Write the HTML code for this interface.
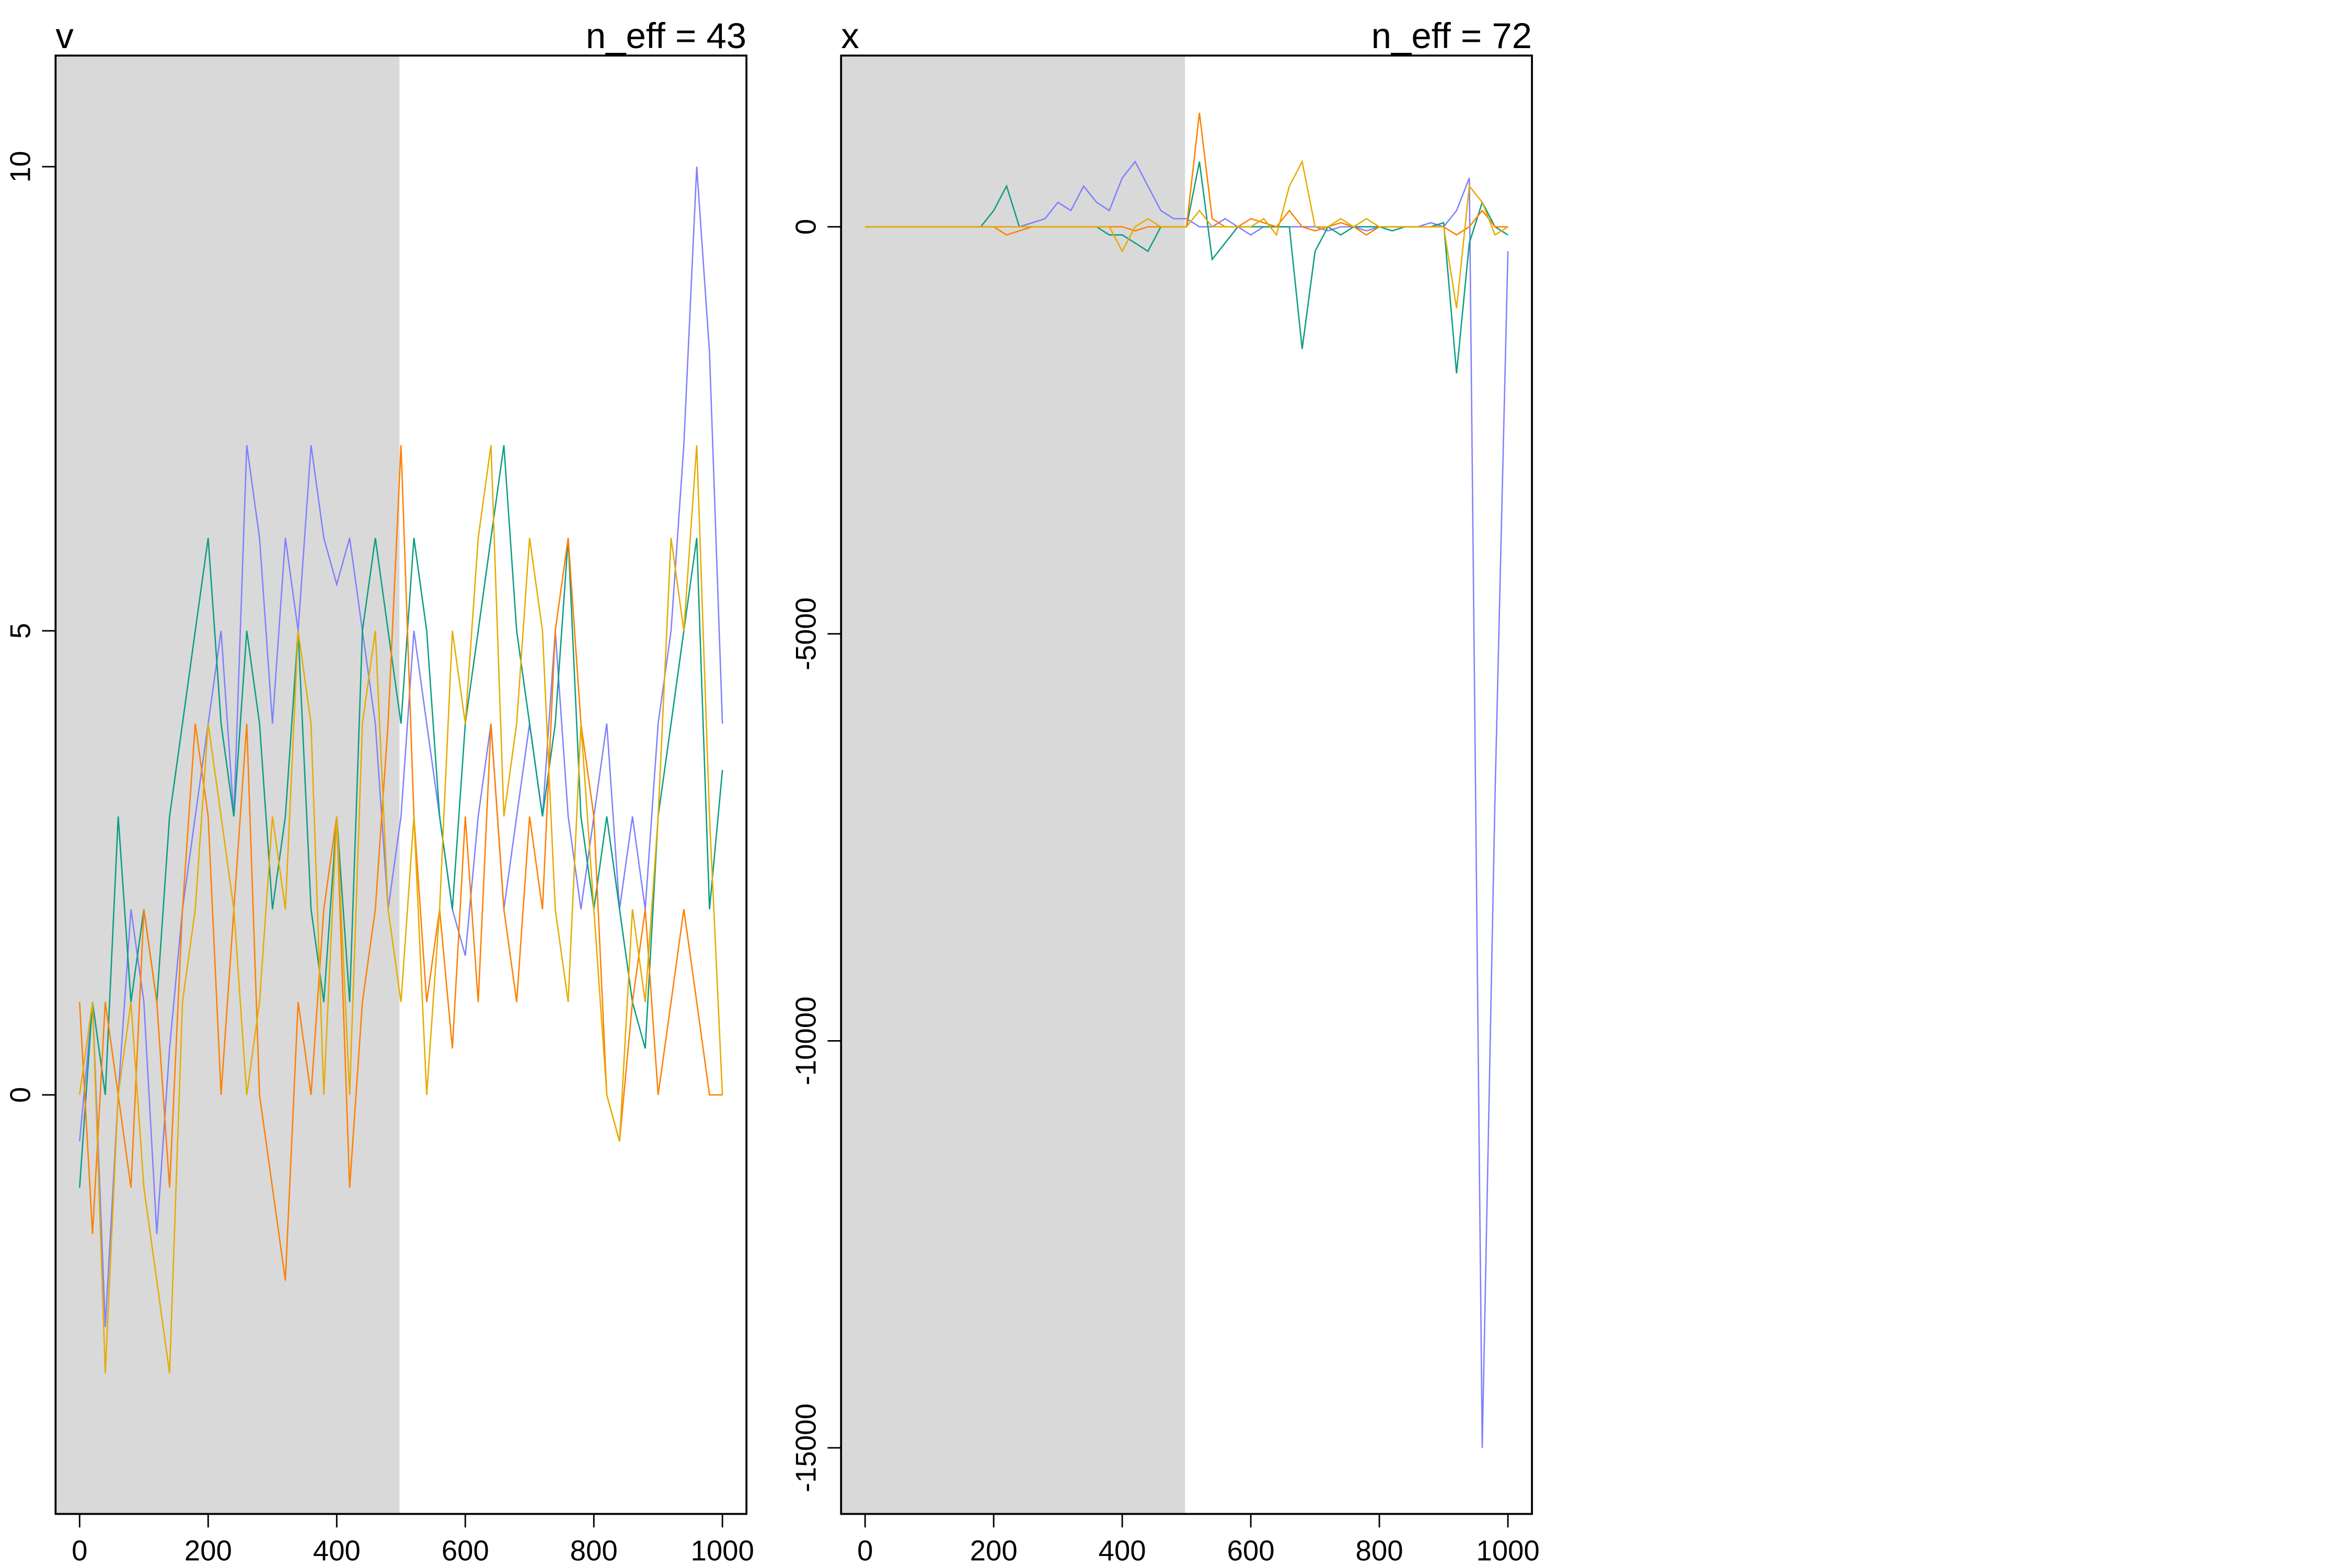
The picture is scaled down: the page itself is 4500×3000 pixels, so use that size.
<!DOCTYPE html>
<html><head><meta charset="utf-8"><style>html,body{margin:0;padding:0;background:#fff}svg{display:block}</style></head>
<body>
<svg id="chart" xmlns="http://www.w3.org/2000/svg" width="4500" height="3000" viewBox="0 0 1566 1044" preserveAspectRatio="none" font-family="Liberation Sans, sans-serif">
<g>
<rect x="37" y="37" width="229" height="971" fill="#d9d9d9"/>
<g id="linesV"></g>
<rect x="37" y="37" width="460" height="971" fill="none" stroke="#000" stroke-width="1.3"/>
<text x="37" y="32" font-size="24">v</text>
<text x="497" y="32" font-size="24" text-anchor="end">n_eff = 43</text>
<g id="axesV"></g>
</g>
<g>
<rect x="560" y="37" width="229" height="971" fill="#d9d9d9"/>
<g id="linesX"></g>
<rect x="560" y="37" width="460" height="971" fill="none" stroke="#000" stroke-width="1.3"/>
<text x="560" y="32" font-size="24">x</text>
<text x="1020" y="32" font-size="24" text-anchor="end">n_eff = 72</text>
<g id="axesX"></g>
</g>
</svg>
<script>
const xTicks=[0,200,400,600,800,1000];
const vTicks=[0,5,10];
const xpTicks=[0,-5000,-10000,-15000];
const chainNames=['chain-1','chain-2','chain-3','chain-4'];
const chainColors=['#8080ff','#0a9e82','#ff8000','#e6ac00'];
// v: values every 20 iterations
const vBlue=[-0.5,1,-2.5,0,2,1,-1.5,0.5,2,3,4,5,3,7,6,4,6,5,7,6,5.5,6,5,4,2,3,5,4,3,2,1.5,3,4,2,3,4,3,5,3,2,3,4,2,3,2,4,5,7,10,8,4];
const vGreen=[-1,1,0,3,1,2,1,3,4,5,6,4,3,5,4,2,3,5,2,1,3,1,5,6,5,4,6,5,3,2,4,5,6,7,5,4,3,4,6,3,2,3,2,1,0.5,3,4,5,6,2,3.5];
const vOrange=[1,-1.5,1,0,-1,2,1,-1,2,4,3,0,2,4,0,-1,-2,1,0,2,3,-1,1,2,4,7,3,1,2,0.5,3,1,4,2,1,3,2,5,6,4,3,0,-0.5,1,2,0,1,2,1,0,0];
const vGold=[0,1,-3,0,1,-1,-2,-3,1,2,4,3,2,0,1,3,2,5,4,0,3,0,4,5,2,1,3,0,2,5,4,6,7,3,4,6,5,2,1,4,2,0,-0.5,2,1,3,6,5,7,3,0];
// x: values every 20 iterations
const xBlue=[0,0,0,0,0,0,0,0,0,0,0,0,0,50,100,300,200,500,300,200,600,800,500,200,100,100,0,0,100,0,-100,0,0,0,0,0,-50,0,0,-50,0,0,0,0,50,0,200,600,-15000,-7000,-300];
const xGreen=[0,0,0,0,0,0,0,0,0,0,200,500,0,0,0,0,0,0,0,-100,-100,-200,-300,0,0,0,800,-400,-200,0,0,0,0,0,-1500,-300,0,-100,0,0,0,-50,0,0,0,50,-1800,-200,300,0,-100];
const xOrange=[0,0,0,0,0,0,0,0,0,0,0,-100,-50,0,0,0,0,0,0,0,0,-50,0,0,0,0,1400,100,0,0,100,50,0,200,0,-50,0,50,0,-100,0,0,0,0,0,0,-100,0,200,0,0];
const xGold=[0,0,0,0,0,0,0,0,0,0,0,0,0,0,0,0,0,0,0,0,-300,0,100,0,0,0,200,0,0,0,0,100,-100,500,800,0,0,100,0,100,0,0,0,0,0,0,-1000,500,300,-100,0];
const ns='http://www.w3.org/2000/svg';
function mk(t,a,p){const e=document.createElementNS(ns,t);for(const k in a)e.setAttribute(k,a[k]);p.appendChild(e);return e;}
function panel(x0,yf,series,ticks,lg,ag,name){
  const sx=i=>x0+16+i*0.428;
  series.forEach((s,ci)=>{
    let d='';s.forEach((v,i)=>{d+=(i?'L':'M')+sx(i*20).toFixed(1)+' '+yf(v).toFixed(1);});
    const p=mk('path',{d:d,fill:'none',stroke:chainColors[ci],'stroke-width':0.9},lg);
    
    
  });
  xTicks.forEach(t=>{
    const l=mk('line',{x1:sx(t),x2:sx(t),y1:1008,y2:1017,stroke:'#000','stroke-width':1},ag);
    
    
    const tx=mk('text',{x:sx(t),y:1039,'font-size':19,'text-anchor':'middle'},ag);tx.textContent=t;
    
    
  });
  ticks.forEach(t=>{
    const y=yf(t);
    const l=mk('line',{x1:x0-9,x2:x0,y1:y,y2:y,stroke:'#000','stroke-width':1},ag);
    
    
    const tx=mk('text',{x:x0-17,y:y,'font-size':19,'text-anchor':'middle',transform:'rotate(-90 '+(x0-17)+' '+y+')'},ag);tx.textContent=t;
    
    
  });
}
panel(37,v=>729-v*61.8,[vBlue,vGreen,vOrange,vGold],vTicks,document.getElementById('linesV'),document.getElementById('axesV'),'v');
panel(560,v=>151-v*0.0542,[xBlue,xGreen,xOrange,xGold],xpTicks,document.getElementById('linesX'),document.getElementById('axesX'),'x');
</script>
</body></html>
